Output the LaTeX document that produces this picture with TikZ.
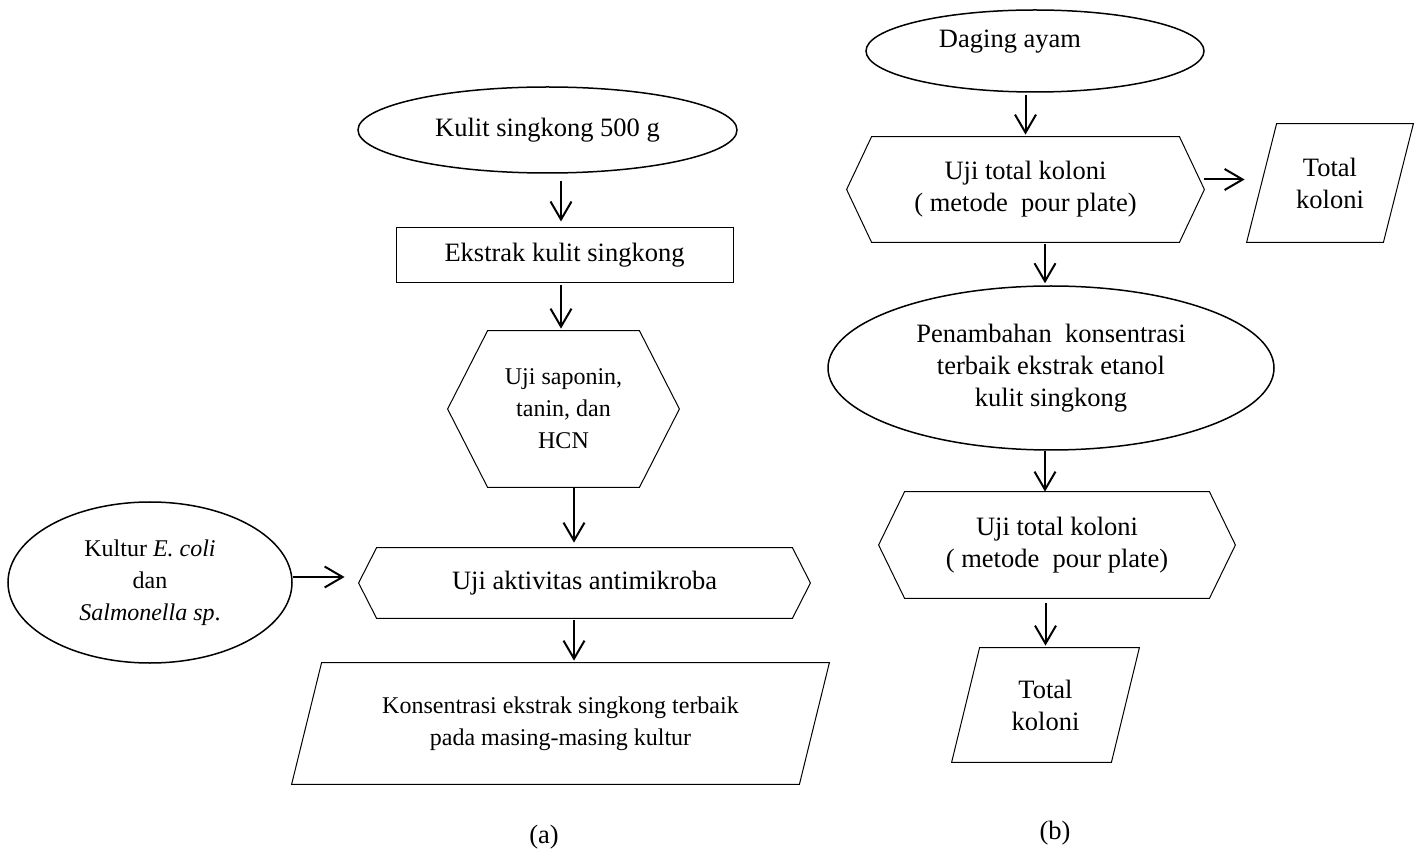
\documentclass[tikz,border=0pt]{standalone}
\usepackage{fontspec}
\setmainfont{Liberation Serif}
\usetikzlibrary{shapes.geometric,arrows.meta}

\tikzset{
  box/.style={inner sep=0pt,align=center,font=\fontsize{13.25}{16}\selectfont},
  small/.style={font=\fontsize{12}{16}\selectfont},
  oval/.style={box,draw,ellipse,line width=.75pt},
  arr/.style={line width=1pt,-{Straight Barb[length=9pt,width=10.5pt]},shorten <=1pt,shorten >=1pt},
}

\begin{document}
\begin{tikzpicture}[x=.5pt,y=-.5pt]
		\useasboundingbox (0,0) rectangle (1419,855);
		% (a)
		\node[oval,minimum width=189.5pt,minimum height=43pt] (kulit) at (547.5,130) {Kulit singkong 500 g};
		\node[box,draw,line width=.5pt,minimum width=168.5pt,minimum height=27.5pt] (ekstrak) at (564.5,255.5) {Ekstrak kulit singkong};
		\node[box,small,minimum width=115.5pt,minimum height=78pt] (saponin) at (563.5,409) {Uji saponin,\\ tanin, dan\\ HCN};
		\node[oval,small,minimum width=142pt,minimum height=80.5pt] (kultur) at (150,582.5) {Kultur \textit{E. coli}\\ dan\\ \textit{Salmonella sp}.};
		\node[box,minimum width=225.5pt,minimum height=35pt] (antimikroba) at (584.5,583) {Uji aktivitas antimikroba};
		\node[box,small,minimum width=268.5pt,minimum height=60.5pt] (konsentrasi) at (560.5,723.5) {Konsentrasi ekstrak singkong terbaik\\ pada masing-masing kultur};
		\node[box] (capA) at (544,837) {(a)};
		% (b)
		\node[oval,minimum width=169pt,minimum height=41pt,label={[box,xshift=-12.5pt,yshift=4.5pt]center:Daging ayam}] (daging) at (1035,51) {};
		\node[box,minimum width=178.5pt,minimum height=52.5pt] (koloniA) at (1025.5,189.5) {Uji total koloni\\ ( metode\ \ pour plate)};
		\node[box,minimum width=83pt,minimum height=59pt] (totalA) at (1330,183) {Total\\ koloni};
		\node[oval,minimum width=223pt,minimum height=82pt] (penambahan) at (1051,368) {Penambahan\ \ konsentrasi\\ terbaik ekstrak etanol\\ kulit singkong};
		\node[box,minimum width=178pt,minimum height=53pt] (koloniB) at (1057,545) {Uji total koloni\\ ( metode\ \ pour plate)};
		\node[box,minimum width=93.5pt,minimum height=57pt] (totalB) at (1045.5,705) {Total\\ koloni};
		\node[box] (capB) at (1055,833) {(b)};

		% hexagon and parallelogram outlines
		\foreach \n/\d in {saponin/20pt,antimikroba/9pt,koloniA/12.5pt,koloniB/13pt}
		\draw[line width=.5pt] (\n.west) -- ([xshift=\d]\n.north west) -- ([xshift=-\d]\n.north east) -- (\n.east) -- ([xshift=-\d]\n.south east) -- ([xshift=\d]\n.south west) -- cycle;
		\foreach \n/\s in {konsentrasi/15pt,totalA/15pt,totalB/14pt}
		\draw[line width=.5pt] (\n.south west) -- ([xshift=-\s]\n.south east) -- (\n.north east) -- ([xshift=\s]\n.north west) -- cycle;

		\draw[arr,shorten <=3.5pt,shorten >=3pt] ([xshift=-1.75pt]ekstrak.north |- kulit.south) -- ([xshift=-1.75pt]ekstrak.north);
		\draw[arr] ([xshift=-1.75pt]ekstrak.south) -- ([xshift=-1.75pt]ekstrak.south |- saponin.north);
		\draw[arr,shorten <=0pt,shorten >=2.5pt] ([xshift=5.25pt]saponin.south) -- ([xshift=5.25pt]saponin.south |- antimikroba.north);
		\draw[arr] ([xshift=-5.25pt]antimikroba.south) -- ([xshift=-5.25pt]antimikroba.south |- konsentrasi.north);
		\draw[arr,shorten <=0pt,shorten >=7pt] ([yshift=2.75pt]kultur.east) -- ([yshift=2.75pt]kultur.east -| antimikroba.west);
		\draw[arr] (koloniA.north |- daging.south) -- (koloniA.north);
		\draw[arr,shorten <=0pt] ([yshift=5pt]koloniA.east) -- ([yshift=5pt]koloniA.east -| totalA.west);
		\draw[arr] ([xshift=-3pt]penambahan.north |- koloniA.south) -- ([xshift=-3pt]penambahan.north);
		\draw[arr,shorten <=0pt,shorten >=0pt] ([xshift=-3pt]penambahan.south) -- ([xshift=-3pt]penambahan.south |- koloniB.north);
		\draw[arr,shorten <=2.5pt] (totalB.north |- koloniB.south) -- (totalB.north);
\end{tikzpicture}
\end{document}
